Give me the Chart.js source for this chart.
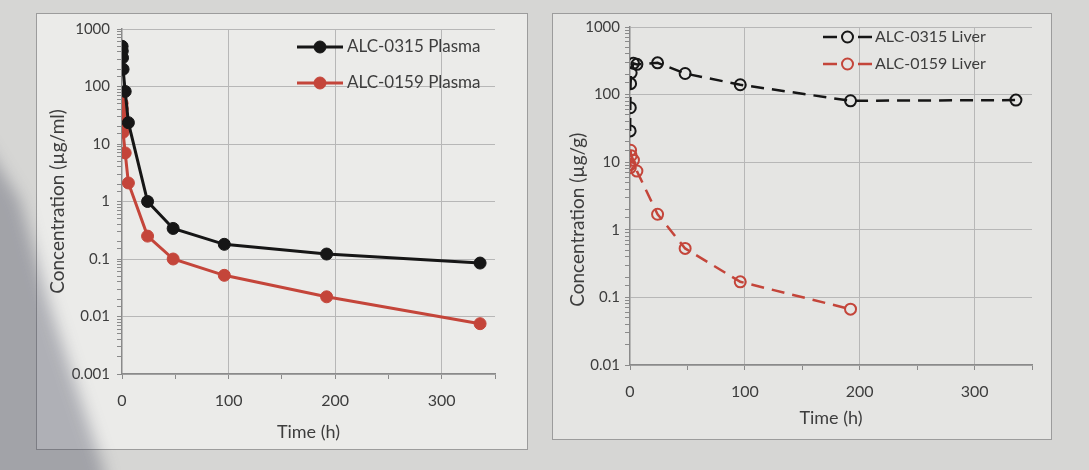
<!DOCTYPE html>
<html>
<head>
<meta charset="utf-8">
<script src="https://cdn.jsdelivr.net/npm/chart.js@4.4.1/dist/chart.umd.min.js"></script>
<style>
  body {
    margin: 0;
    width: 1089px;
    height: 470px;
    overflow: hidden;
    background: #d6d6d4;
    position: relative;
    font-family: Lato, sans-serif;
  }
  .box {
    position: absolute;
    box-sizing: border-box;
    border: 1px solid #9c9c9c;
  }
  #leftBox { left: 36px; top: 13px; width: 492px; height: 437px; background: #ebebe9; }
  #rightBox { left: 552px; top: 13px; width: 500px; height: 427px; background: #e5e5e3; }
  .box canvas { position: absolute; left: -1px; top: -1px; }
  #shadow {
    position: absolute;
    left: 0; top: 0; width: 1089px; height: 470px;
    filter: blur(8px);
    pointer-events: none;
  }
  #shadowShape {
    position: absolute;
    left: -30px; top: 0; width: 300px; height: 520px;
    background: rgba(70, 72, 92, 0.36);
    clip-path: polygon(0 120px, 50px 200px, 78px 300px, 104px 380px, 134px 470px, 140px 520px, 0 520px);
  }
</style>
</head>
<body>
<div class="box" id="leftBox"><canvas id="plasmaChart" width="492" height="437"></canvas></div>
<div class="box" id="rightBox"><canvas id="liverChart" width="500" height="427"></canvas></div>
<div id="shadow"><div id="shadowShape"></div></div>
<script>
// sampling times (h)
const times = [0.1, 0.25, 0.5, 1, 3, 6, 24, 48, 96, 192, 336];

// plasma concentrations (µg/ml)
const plasma0315 = [500, 414, 316, 200, 82, 23.5, 1.0, 0.34, 0.18, 0.122, 0.085];
const plasma0159 = [51, 41, 31, 16, 7.0, 2.1, 0.25, 0.1, 0.052, 0.022, 0.0075];

// liver concentrations (µg/g), ALC-0159 has no 336 h value
const liver0315 = [29, 64, 145, 210, 290, 280, 295, 205, 140, 81, 83];
const liver0159 = [9.2, 8.3, 15, 12.5, 10.7, 7.4, 1.7, 0.53, 0.17, 0.067];

const xTicks = [0, 100, 200, 300];

const textColor = "#3d3d3d";
const gridColor = "#b7b7b7";
const axisColor = "#8a8a8a";
const black = "#161616";
const red = "#c4453a";

function pairs(values) {
  return values.map((v, i) => ({ x: times[i], y: v }));
}

function isDecade(value) {
  const e = Math.log10(value);
  return Math.abs(e - Math.round(e)) < 1e-9;
}

// legend drawn inside the plot area, like the excel one
const insideLegend = {
  id: "insideLegend",
  afterDatasetsDraw(chart, args, opts) {
    const ctx = chart.ctx;
    chart.data.datasets.forEach((ds, i) => {
      const y = opts.y + i * opts.rowGap;
      ctx.save();
      ctx.strokeStyle = ds.borderColor;
      ctx.lineWidth = ds.borderWidth;
      ctx.setLineDash(opts.dash || []);
      ctx.beginPath();
      ctx.moveTo(opts.x, y);
      ctx.lineTo(opts.x + opts.lineLen, y);
      ctx.stroke();
      ctx.setLineDash([]);
      ctx.beginPath();
      ctx.arc(opts.x + opts.lineLen / 2, y, ds.pointRadius, 0, Math.PI * 2);
      ctx.fillStyle = ds.pointBackgroundColor;
      ctx.fill();
      ctx.lineWidth = ds.pointBorderWidth;
      ctx.strokeStyle = ds.pointBorderColor;
      ctx.stroke();
      ctx.fillStyle = textColor;
      ctx.font = opts.font;
      ctx.textBaseline = "middle";
      ctx.fillText(ds.label, opts.x + opts.lineLen + opts.textGap, y);
      ctx.restore();
    });
  },
};

function makeOptions(cfg) {
  return {
    responsive: false,
    animation: false,
    devicePixelRatio: 1,
    layout: { padding: { top: 12, right: cfg.padRight, left: 0, bottom: 0 } },
    plugins: {
      legend: { display: false },
      tooltip: { enabled: false },
      insideLegend: cfg.legend,
    },
    scales: {
      x: {
        type: "linear",
        min: 0,
        max: 350,
        afterFit: (scale) => { scale.height = cfg.xHeight; },
        ticks: {
          stepSize: 50,
          autoSkip: false,
          maxRotation: 0,
          padding: cfg.xTickPad,
          color: textColor,
          font: { family: "Lato", size: 16 },
          callback: (value) => (xTicks.includes(value) ? value : ""),
        },
        grid: {
          color: (c) => (c.tick && c.tick.value > 0 && xTicks.includes(c.tick.value) ? gridColor : "rgba(0,0,0,0)"),
          tickColor: axisColor,
          tickLength: 5,
          lineWidth: 1,
        },
        border: { display: true, color: axisColor, width: 1.5 },
        title: {
          display: true,
          text: "Time (h)",
          color: textColor,
          font: { family: "Lato", size: 18 },
          padding: { top: 0, bottom: cfg.xTitlePad },
        },
      },
      y: {
        type: "logarithmic",
        min: cfg.yMin,
        max: 1000,
        afterFit: (scale) => { scale.width = cfg.yWidth; },
        ticks: {
          autoSkip: false,
          padding: cfg.yTickPad,
          color: textColor,
          font: { family: "Lato", size: 15 },
          callback: (value) => (isDecade(value) ? String(value) : ""),
        },
        grid: {
          color: (c) => (c.tick && isDecade(c.tick.value) ? gridColor : "rgba(0,0,0,0)"),
          tickColor: axisColor,
          tickLength: 5,
          lineWidth: 1,
        },
        border: { display: true, color: axisColor, width: 1.5 },
        title: {
          display: true,
          text: cfg.yTitle,
          color: textColor,
          font: { family: "Lato", size: 19 },
          padding: { top: cfg.yTitlePad, bottom: 0 },
        },
      },
    },
  };
}

new Chart(document.getElementById("plasmaChart").getContext("2d"), {
  type: "line",
  data: {
    datasets: [
      {
        label: "ALC-0315 Plasma",
        data: pairs(plasma0315),
        borderColor: black,
        borderWidth: 3,
        pointRadius: 6,
        pointBackgroundColor: black,
        pointBorderColor: black,
        pointBorderWidth: 1,
        tension: 0,
      },
      {
        label: "ALC-0159 Plasma",
        data: pairs(plasma0159),
        borderColor: red,
        borderWidth: 3,
        pointRadius: 6,
        pointBackgroundColor: red,
        pointBorderColor: red,
        pointBorderWidth: 1,
        tension: 0,
      },
    ],
  },
  options: makeOptions({
    padRight: 33,
    xHeight: 76,
    yWidth: 86,
    xTickPad: 12,
    yTickPad: 7,
    xTitlePad: 7,
    yTitlePad: 10,
    yMin: 0.001,
    yTitle: "Concentration (µg/ml)",
    legend: { x: 261, y: 34, rowGap: 36, lineLen: 46, textGap: 4, font: "17px Lato" },
  }),
  plugins: [insideLegend],
});

new Chart(document.getElementById("liverChart").getContext("2d"), {
  type: "line",
  data: {
    datasets: [
      {
        label: "ALC-0315 Liver",
        data: pairs(liver0315),
        borderColor: black,
        borderWidth: 2.5,
        borderDash: [13, 8],
        pointRadius: 5.5,
        pointBackgroundColor: "rgba(0,0,0,0)",
        pointBorderColor: black,
        pointBorderWidth: 2,
        tension: 0,
      },
      {
        label: "ALC-0159 Liver",
        data: pairs(liver0159),
        borderColor: red,
        borderWidth: 2.5,
        borderDash: [13, 8],
        pointRadius: 5.5,
        pointBackgroundColor: "rgba(0,0,0,0)",
        pointBorderColor: red,
        pointBorderWidth: 2,
        tension: 0,
      },
    ],
  },
  options: makeOptions({
    padRight: 20,
    xHeight: 75,
    yWidth: 78,
    xTickPad: 12,
    yTickPad: 5,
    xTitlePad: 11,
    yTitlePad: 14,
    yMin: 0.01,
    // trailing en spaces push the centred title a little lower, as in the print
    yTitle: "Concentration (µg/g)\u2002\u2002\u2002\u2002\u2002",
    legend: { x: 271, y: 24, rowGap: 27, lineLen: 49, textGap: 3, font: "16px Lato", dash: [14, 21] },
  }),
  plugins: [insideLegend],
});
</script>
</body>
</html>
